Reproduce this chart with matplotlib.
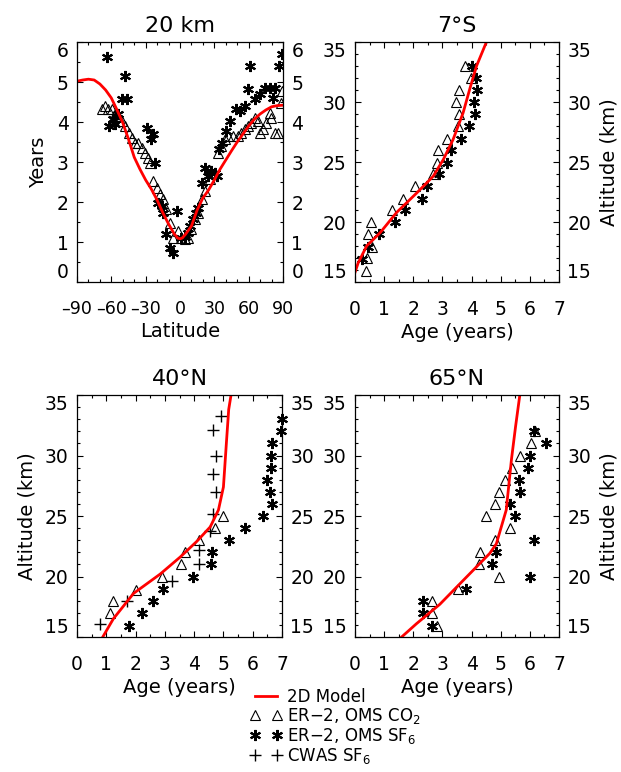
import numpy as np
import matplotlib.pyplot as plt
from matplotlib.lines import Line2D
from matplotlib.ticker import MultipleLocator

# ---- 20 km, age vs latitude ----
lat_ticks = [-90, -60, -30, 0, 30, 60, 90]
lat_ticklabels = ['\u201390', '\u201360', '\u201330', '0', '30', '60', '90']

lat_model = [-90, -85, -80, -75, -70, -65, -60, -55, -50, -45, -40, -35, -30, -25, -20,
             -15, -10, -5, -2, 0, 2, 5, 10, 15, 20, 25, 30, 35, 40, 45, 50, 55, 60, 65,
             70, 75, 80, 85, 90]
age_model_20km = [5.02, 5.05, 5.07, 5.05, 4.95, 4.8, 4.6, 4.3, 3.98, 3.57, 3.12, 2.82, 2.55,
                  2.32, 2.05, 1.73, 1.45, 1.2, 1.1, 1.08, 1.1, 1.2, 1.4, 1.8, 2.1, 2.3, 2.55,
                  2.82, 3.05, 3.28, 3.5, 3.7, 3.9, 4.07, 4.2, 4.3, 4.38, 4.41, 4.42]

lat_co2 = [-68.5, -65.6, -62.7, -59.8, -56.8, -54, -51, -48, -45, -42, -39.4, -36.5, -33.6,
           -30.7, -27.8, -26.3, -23.4, -20.5, -17.6, -14.7, -11.8, -8.9, -6, -1.6, 1.3, 4.2,
           7.1, 10, 12.9, 15.8, 18.8, 21.7, 26, 30.4, 33.3, 36.2, 39.1, 42, 46.4, 50.7, 53.7,
           56.6, 59.5, 62.4, 65.3, 68.2, 69.7, 72.6, 75.5, 78.4, 79.8, 82.7, 85.6, 88.5, 89.4]
age_co2_20km = [4.32, 4.4, 4.32, 4.32, 4.19, 4.15, 4.03, 3.9, 3.73, 3.6, 3.48, 3.48, 3.36,
                3.23, 3.1, 2.98, 2.52, 2.36, 2.19, 2.07, 1.82, 1.48, 1.11, 1.28, 1.11, 1.07,
                1.11, 1.32, 1.57, 1.73, 2.07, 2.28, 2.57, 2.73, 3.23, 3.4, 3.57, 3.65, 3.65,
                3.65, 3.73, 3.82, 3.9, 3.98, 4.11, 4.03, 3.73, 3.82, 3.98, 4.23, 4.11, 3.73,
                3.73, 4.48, 4.78]

lat_sf6 = [-63.5, -48, -51, -46, -62, -58.9, -56.8, -54, -29.2, -25.7, -23.4, -22, -19, -16,
           -14.7, -11.8, -8.9, -6.5, -3, 1.3, 4.2, 7.1, 8.6, 11.5, 14.4, 15.8, 18.8, 21.7,
           24.6, 27.5, 30.4, 32.4, 33.9, 37.1, 40, 43.5, 49.3, 52.2, 56.6, 59.5, 61.5, 65.3,
           69.7, 74, 78.4, 82.7, 81.3, 86.5, 88.8]
age_sf6_20km = [5.63, 5.15, 4.58, 4.57, 3.9, 4.07, 3.94, 4.19, 3.86, 3.57, 3.69, 2.98, 1.98,
                1.9, 1.73, 1.19, 0.86, 0.73, 1.78, 1.11, 1.13, 1.23, 1.4, 1.57, 1.73, 1.86,
                2.48, 2.86, 2.65, 2.78, 2.73, 2.65, 3.32, 3.48, 3.78, 4.03, 4.32, 4.28, 4.4,
                4.82, 5.4, 4.57, 4.69, 4.86, 4.86, 4.86, 4.61, 5.4, 5.69]

# ---- 7S profile ----
age_model_7s = [0.0, 0.11, 0.4, 0.86, 1.43, 2.11, 2.68, 3.03, 3.37, 3.71, 3.94, 4.17, 4.51]
alt_model_7s = [15.8, 16.6, 18.0, 19.1, 20.8, 22.4, 23.8, 25.2, 26.9, 29.1, 31.1, 33.0, 35.0]
age_co2_7s = [0.38, 0.4, 0.6, 0.46, 0.55, 1.26, 1.66, 2.05, 2.66, 2.8, 2.85, 3.17, 3.54,
              3.57, 3.45, 3.58, 3.97, 3.79]
alt_co2_7s = [15.9, 17, 17.9, 19, 20, 21, 21.9, 23, 24, 24.9, 26, 26.9, 28, 29, 30, 31, 32, 33]
age_sf6_7s = [0.23, 0.45, 0.82, 1.37, 1.71, 2.31, 2.48, 2.89, 3.14, 3.31, 3.65, 3.92, 4.11,
              4.08, 4.17, 4.14, 4.03]
alt_sf6_7s = [16.9, 17.9, 19, 20, 21, 21.9, 23, 24, 24.9, 26, 26.9, 28, 29, 30, 31, 32, 33]

# ---- 40N profile ----
age_model_40n = [0.88, 1.24, 1.93, 2.84, 3.52, 4.09, 4.55, 4.83, 5.0, 5.1, 5.18, 5.26]
alt_model_40n = [15.0, 16.5, 18.6, 20.2, 21.6, 22.9, 24.1, 25.5, 27.4, 31.0, 33.8, 35.0]
age_co2_40n = [1.13, 1.24, 2.0, 2.9, 3.55, 3.69, 4.17, 4.72, 5.0]
alt_co2_40n = [17, 18, 18.9, 20, 21, 22, 23, 24, 25]
age_sf6_40n = [1.76, 2.21, 2.59, 2.93, 3.96, 4.57, 4.61, 5.18, 5.75, 6.34, 6.66, 6.6, 6.49,
               6.62, 6.62, 6.66, 6.98, 7.0]
alt_sf6_40n = [15.9, 17, 18, 19, 20, 21, 22, 23, 24, 25, 26, 27, 28, 29, 30, 31, 32, 33]
age_cwas_40n = [0.79, 1.7, 3.24, 4.15, 4.15, 4.55, 4.66, 4.75, 4.64, 4.75, 4.63, 4.91]
alt_cwas_40n = [16.1, 18, 19.6, 21, 22.2, 23.8, 25.2, 27, 28.5, 30, 32.1, 33.3]

# ---- 65N profile ----
age_model_65n = [1.6, 2.11, 2.91, 3.6, 4.17, 4.62, 4.85, 5.02, 5.19, 5.25, 5.37, 5.51, 5.65]
alt_model_65n = [15.0, 16.1, 17.7, 19.4, 20.8, 21.9, 22.7, 24.1, 25.5, 26.9, 29.7, 32.4, 34.9]
age_co2_65n = [2.83, 2.64, 2.64, 3.54, 4.94, 4.25, 4.29, 4.79, 5.32, 4.51, 4.79, 4.94, 5.14,
               5.39, 5.65, 6.03, 6.18]
alt_co2_65n = [15.9, 17, 18, 19, 20, 21, 22, 23, 24, 25, 26, 27, 28, 29, 30, 31, 32]
age_sf6_65n = [2.63, 2.34, 2.34, 3.82, 6.02, 4.7, 4.85, 6.13, 5.48, 5.33, 5.65, 5.62, 5.92,
               5.99, 6.56, 6.13]
alt_sf6_65n = [15.9, 17, 18, 19, 20, 21, 22, 23, 25, 26, 27, 28, 29, 30, 31, 32]

titles = ['20 km', '7°S', '40°N', '65°N']

plt.rcParams['font.family'] = 'DejaVu Sans'
plt.rcParams['xtick.direction'] = 'in'
plt.rcParams['ytick.direction'] = 'in'

tri = dict(ls='none', marker='^', ms=7.5, mfc='none', mec='black', mew=0.8)
ast = dict(ls='none', marker=(6, 2, 0), ms=8, mec='black', mew=1.5)
plus = dict(ls='none', marker='+', ms=8.5, mec='black', mew=1.0)
red = dict(color='red', lw=2)

fig = plt.figure(figsize=(6.21, 7.72), dpi=100)
W, H = 621, 772


def add_ax(left, top, right, bottom):
    return fig.add_axes([left / W, 1 - bottom / H, (right - left) / W, (bottom - top) / H])


ax1 = add_ax(77, 42, 283, 282)
ax2 = add_ax(355, 42, 559, 282)
ax3 = add_ax(77, 395, 282, 637)
ax4 = add_ax(355, 395, 559, 637)


def style(ax, title):
    ax.set_title(title, fontsize=16, pad=7)
    ax.tick_params(which='both', top=True, right=True, labelright=True,
                   labelsize=13.5, width=0.8)
    ax.tick_params(axis='x', pad=13)
    ax.tick_params(axis='y', pad=6)
    ax.tick_params(which='major', length=4)
    ax.tick_params(which='minor', length=2.5)
    for s in ax.spines.values():
        s.set_linewidth(0.9)


# panel 1
ax1.plot(lat_co2, age_co2_20km, **tri)
ax1.plot(lat_sf6, age_sf6_20km, **ast)
ax1.plot(lat_model, age_model_20km, **red)
ax1.set_xlim(-90, 90)
ax1.set_ylim(0, 6)
ax1.set_xticks(lat_ticks, lat_ticklabels)
ax1.xaxis.set_minor_locator(MultipleLocator(10))
ax1.yaxis.set_major_locator(MultipleLocator(1))
ax1.yaxis.set_minor_locator(MultipleLocator(0.5))
ax1.set_xlabel('Latitude', fontsize=14, labelpad=3)
ax1.set_ylabel('Years', fontsize=14, labelpad=6)
style(ax1, titles[0])
ax1.tick_params(axis='x', labelsize=12.5)

profiles = [
    (ax2, age_model_7s, alt_model_7s, age_co2_7s, alt_co2_7s, age_sf6_7s, alt_sf6_7s, None, None),
    (ax3, age_model_40n, alt_model_40n, age_co2_40n, alt_co2_40n, age_sf6_40n, alt_sf6_40n,
     age_cwas_40n, alt_cwas_40n),
    (ax4, age_model_65n, alt_model_65n, age_co2_65n, alt_co2_65n, age_sf6_65n, alt_sf6_65n, None, None),
]
for i, (ax, am, zm, ac, zc, asf, zs, acw, zcw) in enumerate(profiles):
    ax.plot(ac, zc, clip_on=False, **tri)
    ax.plot(asf, zs, clip_on=False, **ast)
    if acw is not None:
        ax.plot(acw, zcw, **plus)
    ax.plot(am, zm, **red)
    ax.set_xlim(0, 7)
    ax.set_ylim(15, 35)
    ax.xaxis.set_major_locator(MultipleLocator(1))
    ax.xaxis.set_minor_locator(MultipleLocator(0.5))
    ax.yaxis.set_major_locator(MultipleLocator(5))
    ax.yaxis.set_minor_locator(MultipleLocator(1))
    ax.set_xlabel('Age (years)', fontsize=14, labelpad=3)
    style(ax, titles[i + 1])

ax3.set_ylabel('Altitude (km)', fontsize=14, labelpad=6)
for ax in (ax2, ax4):
    ax.yaxis.set_label_position('right')
    ax.set_ylabel('Altitude (km)', fontsize=14, labelpad=6)

handles = [
    Line2D([], [], **red),
    Line2D([], [], **tri),
    Line2D([], [], **ast),
    Line2D([], [], **plus),
]
labels = ['2D Model', 'ER\u22122, OMS CO$_2$', 'ER\u22122, OMS SF$_6$', 'CWAS SF$_6$']
fig.legend(handles, labels, loc='upper left', bbox_to_anchor=(250 / W, 1 - 688 / H),
           frameon=False, fontsize=12, numpoints=2, handlelength=1.9,
           handletextpad=0.3, labelspacing=0.0, borderpad=0, borderaxespad=0)

# end labels on the y axes sit just inside the frame, as in the original
fig.canvas.draw()
for ax in (ax1, ax2, ax3, ax4):
    ticks = [t for t in ax.yaxis.get_major_ticks()
             if ax.get_ylim()[0] <= t.get_loc() <= ax.get_ylim()[1]]
    for lab in (ticks[0].label1, ticks[0].label2):
        lab.set_va('bottom')
    for lab in (ticks[-1].label1, ticks[-1].label2):
        lab.set_va('top')

fig.savefig('out.png', dpi=100)
